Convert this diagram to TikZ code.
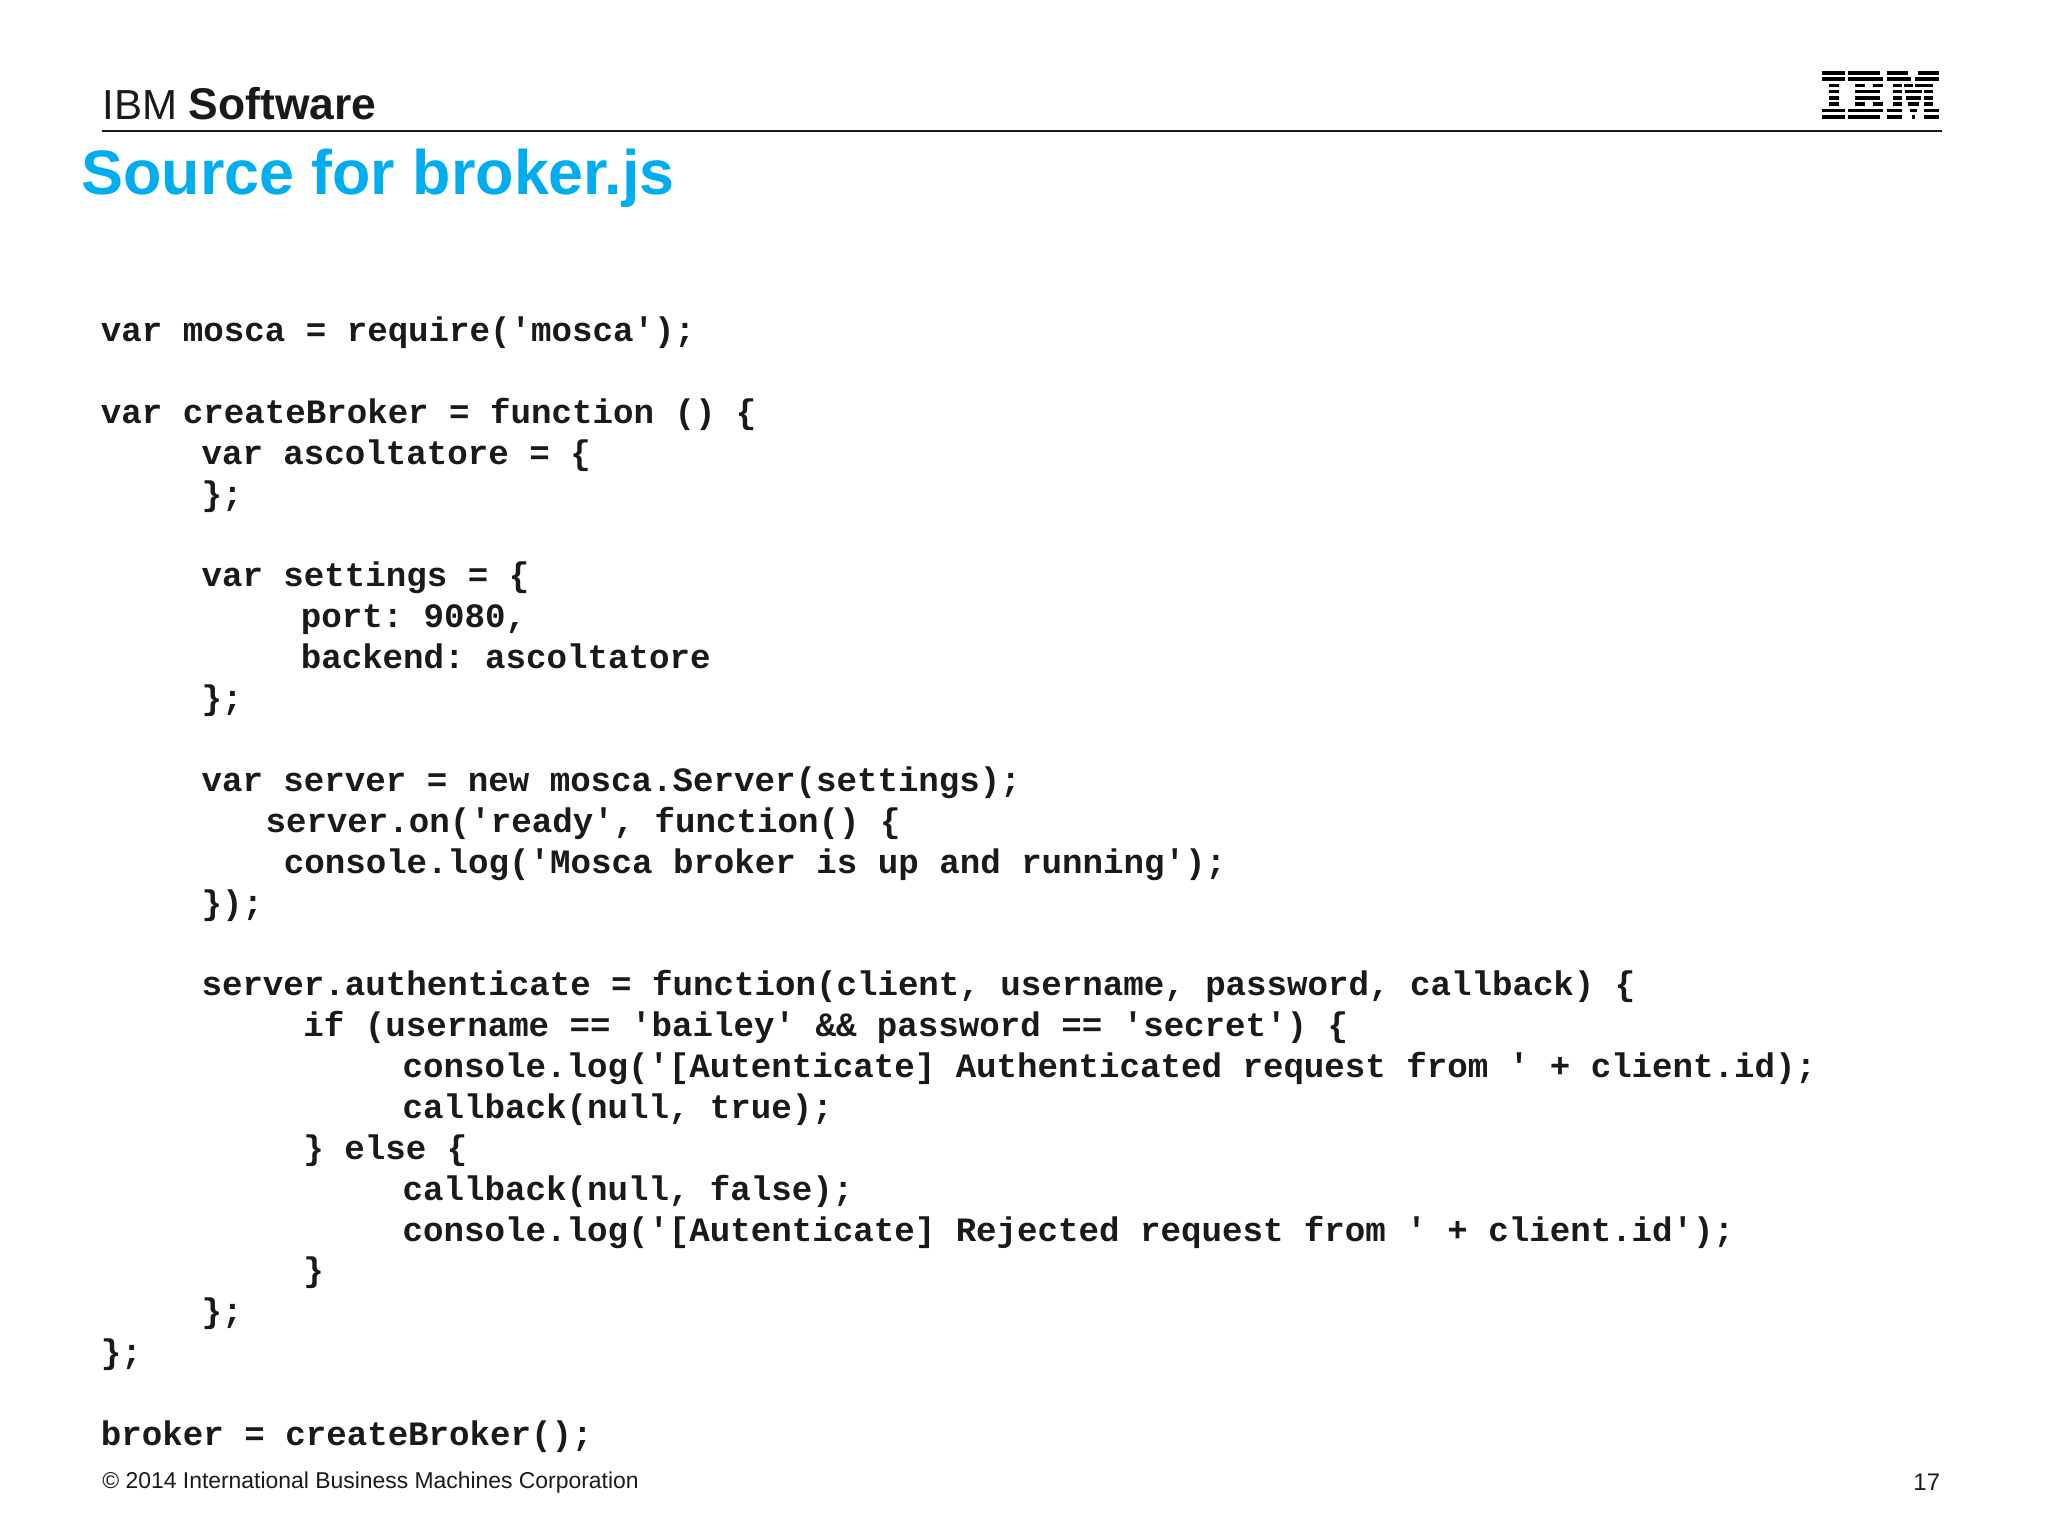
\documentclass[tikz,border=0pt]{standalone}
\usepackage{fontspec}
\setmainfont{Liberation Sans}
\newfontfamily\codefont{Liberation Mono}[BoldFont={Liberation Mono Bold}]
\frenchspacing
\definecolor{ibmblue}{HTML}{00AEEF}
\definecolor{ink}{HTML}{1A1A1A}
\tikzset{
  code/.style={anchor=base west,inner sep=0pt,font=\codefont\bfseries\fontsize{17.07}{20}\selectfont\frenchspacing,text=ink},
  plain/.style={anchor=base west,inner sep=0pt,text=ink},
}
\newcommand{\rowbar}[3]{\fill[black] (#2,{71+6.3*#1}) rectangle (#3,{74.6+6.3*#1});}
\newcommand{\cl}[3]{\node[code] (r#1) at ({#2*1.30612},{(261.6+31.3*#1)*1.30612}) {#3};}
\begin{document}
\begin{tikzpicture}[x=0.5pt,y=-0.5pt]
\useasboundingbox (0,0) rectangle (2048,1536);
\fill[white] (0,0) rectangle (2048,1536);
\node[plain,font=\fontsize{21}{24}\selectfont] (brand) at (102,119.5) {IBM \textbf{\fontsize{22.2}{24}\selectfont Software}};
\coordinate (ruleA) at (101.5,130.5);
\coordinate (ruleB) at (1942,130.5);
\draw[line width=1pt,ink] (ruleA) -- (ruleB);
\node[plain,font=\bfseries\fontsize{31.4}{36}\selectfont,text=ibmblue] (title) at (81,194) {Source for broker.js};
% IBM logo
\foreach \r in {0,1,6,7} {\rowbar{\r}{1822}{1845}}
\foreach \r in {2,3,4,5} {\rowbar{\r}{1829}{1839}}
\rowbar{0}{1848}{1880}\rowbar{1}{1848}{1883}
\rowbar{2}{1855}{1865}\rowbar{2}{1873}{1883}
\rowbar{3}{1855}{1880}\rowbar{4}{1855}{1880}
\rowbar{5}{1855}{1865}\rowbar{5}{1873}{1883}
\rowbar{6}{1848}{1883}\rowbar{7}{1848}{1880}
\rowbar{0}{1887}{1908}\rowbar{0}{1918}{1939}
\rowbar{1}{1887}{1911}\rowbar{1}{1915}{1939}
\rowbar{2}{1893}{1902}\rowbar{2}{1904}{1913}\rowbar{2}{1915}{1933}
\rowbar{3}{1893}{1902}\rowbar{3}{1905}{1922}\rowbar{3}{1924}{1933}
\rowbar{4}{1893}{1902}\rowbar{4}{1906}{1921}\rowbar{4}{1924}{1933}
\rowbar{5}{1893}{1902}\rowbar{5}{1908}{1919}\rowbar{5}{1924}{1933}
\rowbar{6}{1887}{1902}\rowbar{6}{1910}{1917}\rowbar{6}{1924}{1939}
\rowbar{7}{1887}{1902}\rowbar{7}{1912}{1915}\rowbar{7}{1924}{1939}
% code
\cl{0}{77}{var mosca = require('mosca');}
\cl{2}{77}{var createBroker = function () \{}
\cl{3}{154}{var ascoltatore = \{}
\cl{4}{154}{\};}
\cl{6}{154}{var settings = \{}
\cl{7}{230}{port: 9080,}
\cl{8}{230}{backend: ascoltatore}
\cl{9}{154}{\};}
\cl{11}{154}{var server = new mosca.Server(settings);}
\cl{12}{203}{server.on('ready', function() \{}
\cl{13}{217}{console.log('Mosca broker is up and running');}
\cl{14}{154}{\});}
\cl{16}{154}{server.authenticate = function(client, username, password, callback) \{}
\cl{17}{232}{if (username == 'bailey' \&\& password == 'secret') \{}
\cl{18}{308}{console.log('[Autenticate] Authenticated request from ' + client.id);}
\cl{19}{308}{callback(null, true);}
\cl{20}{232}{\} else \{}
\cl{21}{308}{callback(null, false);}
\cl{22}{308}{console.log('[Autenticate] Rejected request from ' + client.id');}
\cl{23}{232}{\}}
\cl{24}{154}{\};}
\cl{25}{77}{\};}
\cl{27}{77}{broker = createBroker();}
% footer
\node[plain,font=\fontsize{11.45}{14}\selectfont] (foot) at (102,1488) {© 2014 International Business Machines Corporation};
\node[plain,font=\fontsize{12}{14}\selectfont] (pagenum) at (1913,1490) {17};
\end{tikzpicture}
\end{document}
